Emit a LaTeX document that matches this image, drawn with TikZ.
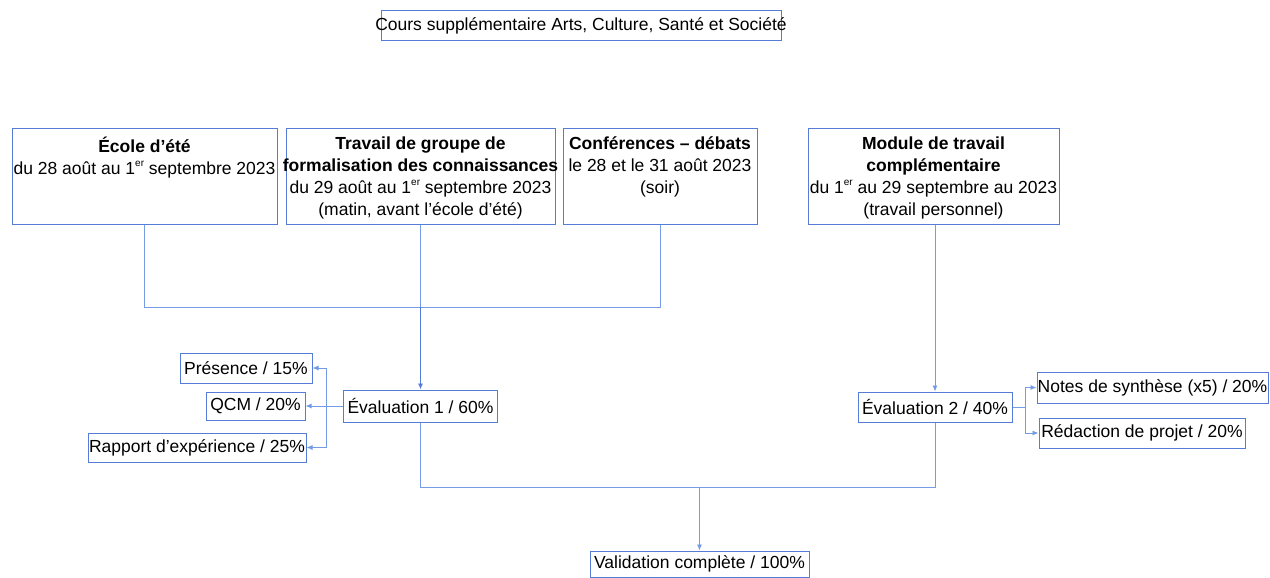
\documentclass[tikz,border=0pt]{standalone}
\usepackage{fontspec}
\setmainfont{Liberation Sans}
\usetikzlibrary{arrows.meta}
\definecolor{boxblue}{RGB}{85,125,215}
\definecolor{lineblue}{RGB}{115,155,230}
\newcommand{\supx}[1]{\raisebox{0.45em}{\fontsize{10}{10}\selectfont #1}}
\begin{document}
\begin{tikzpicture}[x=1pt,y=-1pt,
  every node/.style={font=\fontsize{17.5}{22}\selectfont, text=black},
  box/.style={draw=boxblue, line width=1pt, inner sep=0pt, minimum height=#1},
  box/.default=30pt,
  ttext/.style={anchor=north, align=center, inner sep=0pt},
  conn/.style={draw=lineblue, line width=0.9pt},
  arr/.style={conn, -{Latex[length=6pt,width=5pt]}}]
\useasboundingbox (0,0) rectangle (1270,578);

% title
\node[box=30pt, minimum width=400pt] (title) at (581,26) {\makebox[400pt]{\raisebox{-2pt}{Cours supplémentaire Arts, Culture, Santé et Société}}};

% top boxes
\node[box=96pt, minimum width=265pt] (b1) at (144.5,176) {};
\node[box=96pt, minimum width=269pt] (b2) at (420.5,176) {};
\node[box=96pt, minimum width=194pt] (b3) at (660,176) {};
\node[box=96pt, minimum width=251pt] (b4) at (933.5,176) {};

\node[ttext] (t1) at ([yshift=-9pt]b1.north) {\textbf{École d’été}\\du 28 août au 1\supx{er} septembre 2023};
\node[ttext] (t2) at ([yshift=-9pt]b2.north) {\textbf{Travail de groupe de}\\\textbf{formalisation des connaissances}\\du 29 août au 1\supx{er} septembre 2023\\(matin, avant l’école d’été)};
\node[ttext] (t3) at ([yshift=-9pt]b3.north) {\textbf{Conférences – débats}\\le 28 et le 31 août 2023\\(soir)};
\node[ttext] (t4) at ([yshift=-9pt]b4.north) {\textbf{Module de travail}\\\textbf{complémentaire}\\du 1\supx{er} au 29 septembre au 2023\\(travail personnel)};

% evaluation 1
\node[box=32pt, minimum width=154pt] (e1) at (420.5,406) {Évaluation 1 / 60\%};
\node[box=30pt, minimum width=132pt] (pres) at (246,368) {Présence / 15\%};
\node[box=28pt, minimum width=99pt] (qcm) at (255.5,406) {QCM / 20\%};
\node[box=29pt, minimum width=218pt] (rap) at (197,447.5) {Rapport d’expérience / 25\%};

% evaluation 2
\node[box=30pt, minimum width=154pt] (e2) at (935,407) {Évaluation 2 / 40\%};
\node[box=31pt, minimum width=231pt] (notes) at (1152.5,387.5) {\makebox[231pt]{Notes de synthèse (x5) / 20\%}};
\node[box=30pt, minimum width=206pt] (red) at (1142,433) {Rédaction de projet / 20\%};

% validation
\node[box=26pt, minimum width=219pt] (val) at (699.5,564) {Validation complète / 100\%};

% junction coordinates
\coordinate (j1) at (420.5,307);
\coordinate (k1) at (326,406);
\coordinate (k2) at (1025,407);
\coordinate (m) at (699.5,487);

% connectors
\draw[conn] (b1.south) -- (b1.south |- j1) -- (b3.south |- j1) -- (b3.south);
\draw[conn] (b2.south) -- (j1);
\draw[arr, draw=boxblue] (j1) -- (e1.north);
\draw[conn] (e1.west) -- (k1);
\draw[arr] (k1) |- (pres.east);
\draw[arr] (k1) -- (qcm.east);
\draw[arr] (k1) |- (rap.east);

\draw[arr] (b4.south -| e2.north) -- (e2.north);
\draw[conn] (e2.east) -- (k2);
\draw[arr] (k2) |- (notes.west);
\draw[arr] (k2) |- (red.west);

\draw[conn] (e1.south) -- (e1.south |- m) -- (e2.south |- m) -- (e2.south);
\draw[arr] (m) -- (val.north);
\end{tikzpicture}
\end{document}
